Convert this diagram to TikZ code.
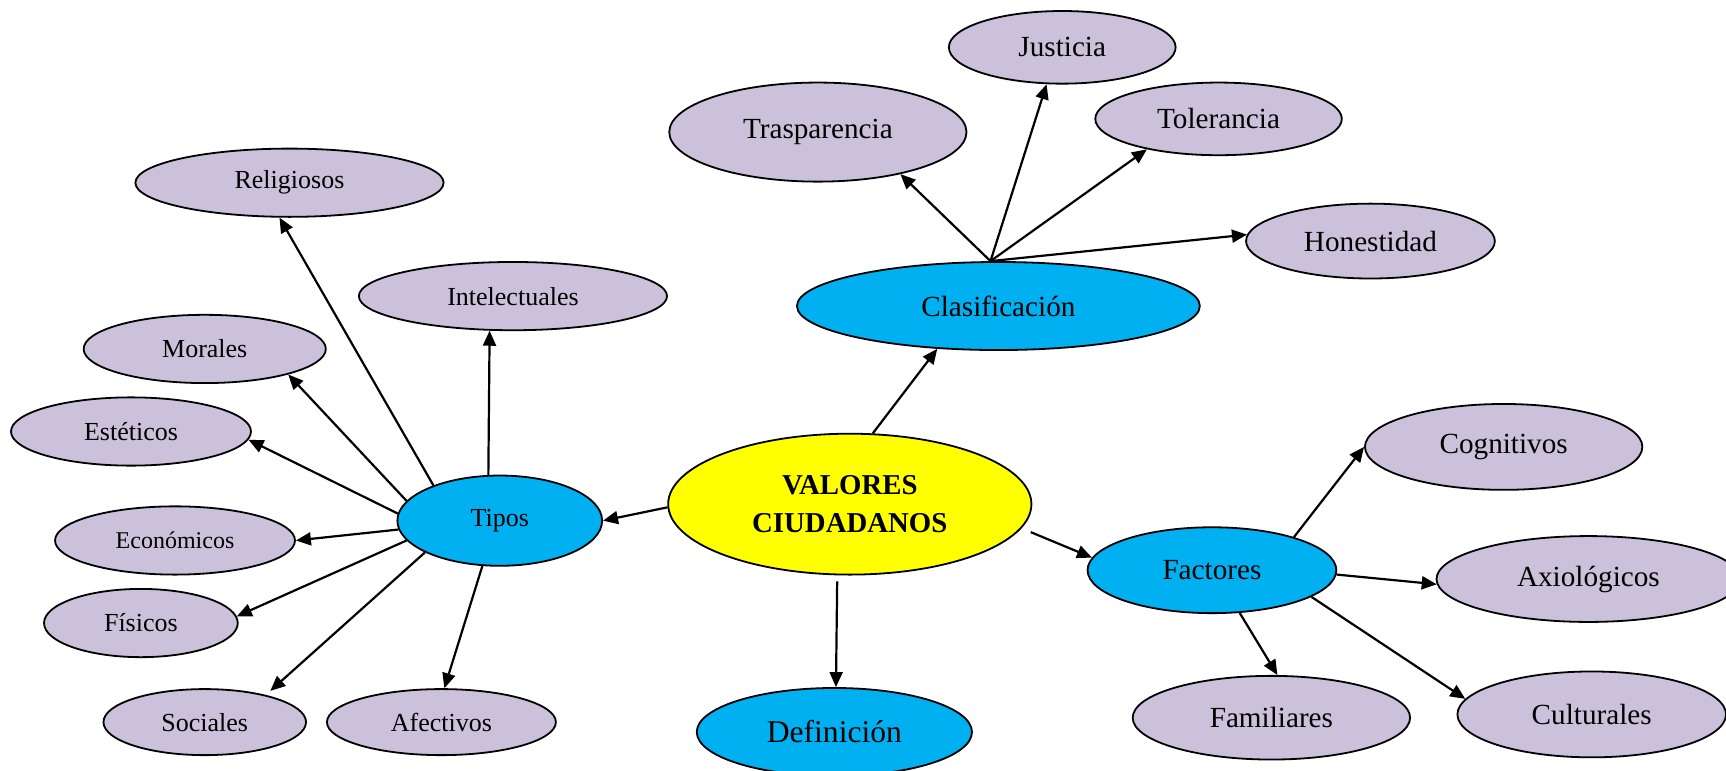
\documentclass[tikz,border=0pt]{standalone}
\usepackage{fontspec}
\setmainfont{Liberation Serif}
\usetikzlibrary{shapes.geometric,arrows.meta}
\definecolor{lila}{RGB}{204,193,218}
\definecolor{celeste}{RGB}{0,176,240}
\definecolor{amarillo}{RGB}{255,255,0}
\begin{document}
\begin{tikzpicture}[x=0.5504pt,y=-0.5504pt,>={Triangle[length=7.5pt,width=6.5pt]},line width=1.1pt,
	elip/.style={ellipse,draw,line width=0.9pt,inner sep=0pt},
	hoja/.style={elip,fill=lila},
	rama/.style={elip,fill=celeste},
	tam/.style 2 args={minimum width=#1*1.1008pt,minimum height=#2*1.1008pt},
	chica/.style={font=\fontsize{13}{15}\selectfont},
	media/.style={font=\fontsize{14.6}{17}\selectfont}]
	\useasboundingbox (0,0) rectangle (1568,700.4);
	% centro
	\node[elip,fill=amarillo,tam={165}{64},align=center,font=\fontsize{14.4}{19}\selectfont\bfseries] (valores) at (772,458) {VALORES\\CIUDADANOS};
	\node[rama,tam={183}{40},media] (clasif) at (907,278) {Clasificación};
	\node[rama,tam={93}{41},chica] (tipos) at (454,473) {Tipos};
	\node[rama,tam={113}{39},media] (fact) at (1101,518) {Factores};
	\node[rama,tam={125}{40},font=\fontsize{15.8}{18}\selectfont] (defin) at (758,665) {Definición};
	% clasificacion
	\node[hoja,tam={135}{45},media] (trasp) at (743,120) {Trasparencia};
	\node[hoja,tam={103}{33},media] (just) at (965,43) {Justicia};
	\node[hoja,tam={112}{33},media] (toler) at (1107,108) {Tolerancia};
	\node[hoja,tam={113}{34},media] (hones) at (1245,219) {Honestidad};
	% tipos
	\node[hoja,tam={140}{31},chica] (relig) at (263,166) {Religiosos};
	\node[hoja,tam={140}{31},chica] (intel) at (466,269) {Intelectuales};
	\node[hoja,tam={110}{31},chica] (moral) at (186,317) {Morales};
	\node[hoja,tam={109}{31},chica] (estet) at (119,392) {Estéticos};
	\node[hoja,tam={109}{31},font=\fontsize{12}{14}\selectfont] (econ) at (159,491) {Económicos};
	\node[hoja,tam={88}{31},chica] (fisic) at (128,566) {Físicos};
	\node[hoja,tam={92}{30},chica] (socia) at (186,656) {Sociales};
	\node[hoja,tam={104}{30},chica] (afect) at (401,656) {Afectivos};
	% factores
	\node[hoja,tam={126}{39},media] (cogn) at (1366,406) {Cognitivos};
	\node[hoja,tam={138}{39},media] (axio) at (1443,526) {Axiológicos};
	\node[hoja,tam={126}{38},media] (famil) at (1155,652) {Familiares};
	\node[hoja,tam={122}{39},media] (cultu) at (1446,649) {Culturales};
	% flechas
	\draw[->] (valores.72) -- (clasif.-145);
	\draw[->] (valores.181) -- (tipos.east);
	\draw[->,shorten <=3pt] (valores.-100) -- (defin.88);
	\draw[->,shorten <=5pt] (valores.-8) -- (fact.174);
	\draw[->] (clasif.100) -- (trasp.-27);
	\draw[->] (clasif.100) -- (just.-113);
	\draw[->] (clasif.100) -- (toler.-157);
	\draw[->] (clasif.100) -- (hones.177);
	\draw[->] (tipos.152) -- (relig.-106);
	\draw[->] (tipos.104) -- (intel.-124);
	\draw[->] (tipos.168) -- (moral.-17);
	\draw[->] (tipos.176) -- (estet.-4);
	\draw[->] (tipos.185) -- (econ.east);
	\draw[->] (tipos.-168) -- (fisic.4);
	\draw[->,shorten >=3pt] (tipos.-157) -- (socia.24);
	\draw[->] (tipos.-111) -- (afect.85);
	\draw[->] (fact.22) -- (cogn.west);
	\draw[->] (fact.-2) -- (axio.182);
	\draw[->] (fact.-57) -- (famil.82);
	\draw[->] (fact.-15) -- (cultu.173);
\end{tikzpicture}
\end{document}
